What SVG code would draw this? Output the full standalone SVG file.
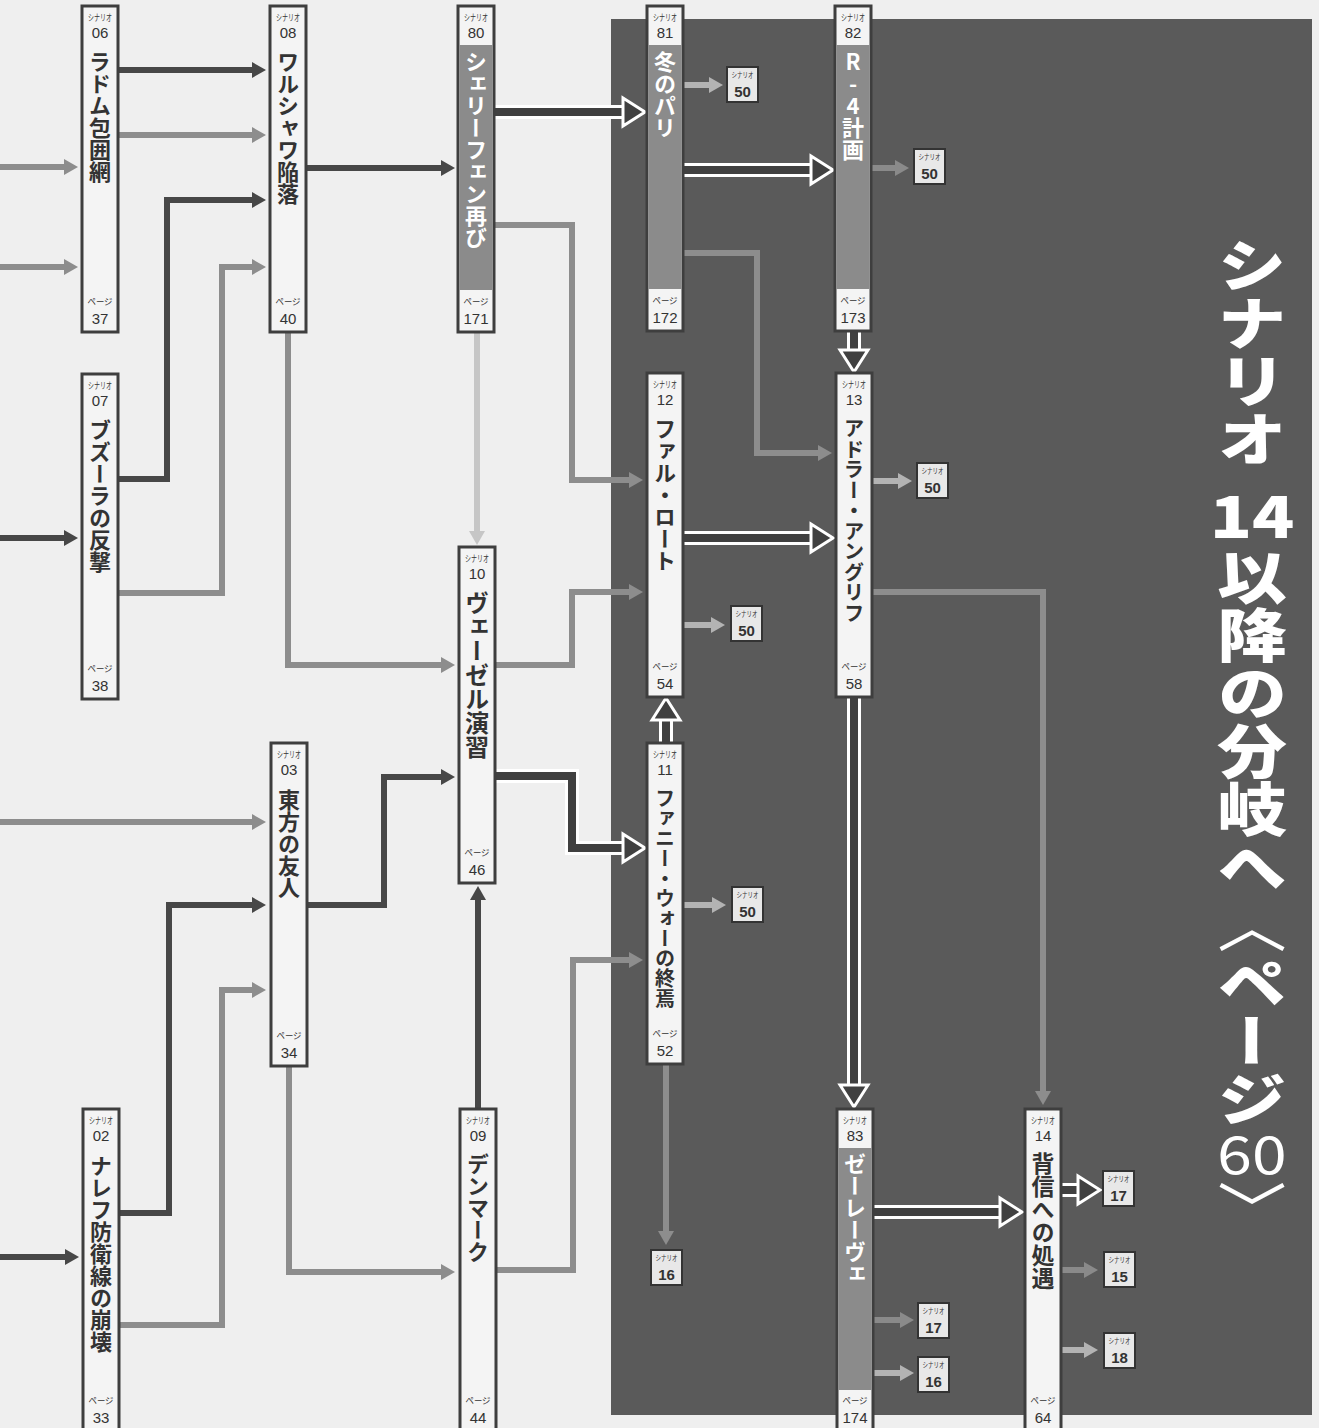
<svg xmlns="http://www.w3.org/2000/svg" width="1319" height="1428" viewBox="0 0 1319 1428">
<style>
text{font-family:"Noto Sans CJK JP","Noto Sans",sans-serif;}
.nbox{fill:#f4f4f4;stroke:#3e3e3e;stroke-width:3;}
.gbody{fill:#8b8b8b;}
.hd{font-size:9px;fill:#333;text-anchor:middle;}
.num{font-family:"Liberation Sans",Arial,sans-serif;font-size:15px;fill:#333;text-anchor:middle;}
.lbl{writing-mode:vertical-rl;font-size:22px;font-weight:700;fill:#333;}
.wl{fill:#fff;}
.sbox{fill:#e8e8e8;stroke:#333;stroke-width:2;}
.shd{font-size:7.5px;fill:#333;text-anchor:middle;}
.snum{font-family:"Liberation Sans",Arial,sans-serif;font-size:15px;font-weight:700;fill:#333;text-anchor:middle;}
.dk{fill:none;stroke:#474747;stroke-width:6;marker-end:url(#ahD);}
.gr{fill:none;stroke:#8d8d8d;stroke-width:6;marker-end:url(#ahG);}
.lt{fill:none;stroke:#c6c6c6;stroke-width:6;marker-end:url(#ahL);}
.pl{fill:none;stroke:#b3b3b3;stroke-width:6;marker-end:url(#ahP);}
.pm{fill:none;stroke:#8a8a8a;stroke-width:6;marker-end:url(#ahM);}
.dout{fill:none;stroke:#fff;stroke-width:14;}
.din{fill:none;stroke:#404040;stroke-width:8;}
.dhead{fill:#404040;stroke:#fff;stroke-width:3;stroke-linejoin:miter;}
.ttl{fill:#fff;font-size:58px;font-weight:900;}
</style>
<defs>
<marker id="ahD" markerUnits="userSpaceOnUse" markerWidth="14" markerHeight="16" refX="2" refY="8" orient="auto"><path d="M0,0 L14,8 L0,16 z" fill="#474747"/></marker>
<marker id="ahG" markerUnits="userSpaceOnUse" markerWidth="14" markerHeight="16" refX="2" refY="8" orient="auto"><path d="M0,0 L14,8 L0,16 z" fill="#8d8d8d"/></marker>
<marker id="ahL" markerUnits="userSpaceOnUse" markerWidth="14" markerHeight="16" refX="2" refY="8" orient="auto"><path d="M0,0 L14,8 L0,16 z" fill="#c6c6c6"/></marker>
<marker id="ahP" markerUnits="userSpaceOnUse" markerWidth="14" markerHeight="16" refX="2" refY="8" orient="auto"><path d="M0,0 L14,8 L0,16 z" fill="#b3b3b3"/></marker>
<marker id="ahM" markerUnits="userSpaceOnUse" markerWidth="14" markerHeight="16" refX="2" refY="8" orient="auto"><path d="M0,0 L14,8 L0,16 z" fill="#8a8a8a"/></marker>
</defs>
<rect x="0" y="0" width="1319" height="1428" fill="#efefef"/>
<rect id="panel" x="611" y="19" width="701" height="1396" fill="#5a5a5a"/>

<g id="connectors">
<path class="dk" d="M118,70 H254"/>
<path class="dk" d="M119,479 H167 V200 H254"/>
<path class="dk" d="M306,168 H443"/>
<path class="dk" d="M0,538 H66"/>
<path class="dk" d="M307,905 H384 V777 H443"/>
<path class="dk" d="M120,1213 H169 V905 H254"/>
<path class="dk" d="M0,1257 H67"/>
<path class="dk" d="M478,1109 V898"/>
<path class="gr" d="M0,167 H66"/>
<path class="gr" d="M0,267 H66"/>
<path class="gr" d="M118,135 H254"/>
<path class="gr" d="M119,593 H222 V267 H254"/>
<path class="gr" d="M288,332 V665 H443"/>
<path class="gr" d="M494,225 H572 V480 H631"/>
<path class="gr" d="M495,665 H572 V592 H631"/>
<path class="gr" d="M0,822 H254"/>
<path class="gr" d="M120,1325 H222 V990 H254"/>
<path class="gr" d="M289,1066 V1272 H443"/>
<path class="gr" d="M497,1270 H573 V960 H631"/>
<path class="gr" d="M683,253 H757 V453 H820"/>
<path class="gr" d="M872,592 H1043 V1093"/>
<path class="gr" d="M666,1064 V1233"/>
<path class="lt" d="M477,332 V533"/>
<path class="pl" d="M683,85 H711"/>
<path class="pm" d="M872,168 H897"/>
<path class="pl" d="M872,481 H900"/>
<path class="pl" d="M683,625 H713"/>
<path class="pl" d="M683,905 H714"/>
<path class="pm" d="M873,1320 H902"/>
<path class="pl" d="M873,1373 H902"/>
<path class="pm" d="M1062,1270 H1086"/>
<path class="pl" d="M1062,1350 H1086"/>
<g id="d1"><path class="dout" d="M494,112 H624"/><path class="din" d="M494,112 H624"/><polygon class="dhead" points="623,98 645,112 623,126"/></g>
<g id="d2"><path class="dout" d="M495,776 H572 V848 H624"/><path class="din" d="M495,776 H572 V848 H624"/><polygon class="dhead" points="623,834 645,848 623,862"/></g>
<g id="d3"><path class="dout" d="M683,170 H812"/><path class="din" d="M683,170 H812"/><polygon class="dhead" points="811,156 833,170 811,184"/></g>
<g id="d4"><path class="dout" d="M854,331 V351"/><path class="din" d="M854,331 V351"/><polygon class="dhead" points="840,350 854,372 868,350"/></g>
<g id="d5"><path class="dout" d="M683,538 H812"/><path class="din" d="M683,538 H812"/><polygon class="dhead" points="811,524 833,538 811,552"/></g>
<g id="d6"><path class="dout" d="M666,743 V719"/><path class="din" d="M666,743 V719"/><polygon class="dhead" points="652,720 666,698 680,720"/></g>
<g id="d7"><path class="dout" d="M854,697 V1086"/><path class="din" d="M854,697 V1086"/><polygon class="dhead" points="840,1085 854,1107 868,1085"/></g>
<g id="d8"><path class="dout" d="M873,1212 H1001"/><path class="din" d="M873,1212 H1001"/><polygon class="dhead" points="1000,1198 1022,1212 1000,1226"/></g>
<g id="d9"><path class="dout" d="M1062,1190 H1079"/><path class="din" d="M1062,1190 H1079"/><polygon class="dhead" points="1078,1176 1100,1190 1078,1204"/></g>
</g>

<g id="n06"><rect class="nbox" x="82" y="6" width="36" height="326"/>
<text class="hd" x="100" y="21" textLength="24" lengthAdjust="spacingAndGlyphs">シナリオ</text><text class="num" x="100" y="38">06</text>
<text class="lbl" x="100" y="51">ラドム包囲網</text>
<text class="hd" x="100" y="305" textLength="25" lengthAdjust="spacingAndGlyphs">ページ</text><text class="num" x="100" y="324">37</text></g>

<g id="n08"><rect class="nbox" x="270" y="6" width="36" height="326"/>
<text class="hd" x="288" y="21" textLength="24" lengthAdjust="spacingAndGlyphs">シナリオ</text><text class="num" x="288" y="38">08</text>
<text class="lbl" x="288" y="51">ワルシャワ陥落</text>
<text class="hd" x="288" y="305" textLength="25" lengthAdjust="spacingAndGlyphs">ページ</text><text class="num" x="288" y="324">40</text></g>

<g id="n80"><rect class="nbox" x="458" y="6" width="36" height="326"/><rect class="gbody" x="459.5" y="45" width="33" height="245"/>
<text class="hd" x="476" y="21" textLength="24" lengthAdjust="spacingAndGlyphs">シナリオ</text><text class="num" x="476" y="38">80</text>
<text class="lbl wl" x="476" y="51">シェリーフェン再び</text>
<text class="hd" x="476" y="305" textLength="25" lengthAdjust="spacingAndGlyphs">ページ</text><text class="num" x="476" y="324">171</text></g>

<g id="n81"><rect class="nbox" x="647" y="6" width="36" height="325"/><rect class="gbody" x="648.5" y="45" width="33" height="244"/>
<text class="hd" x="665" y="21" textLength="24" lengthAdjust="spacingAndGlyphs">シナリオ</text><text class="num" x="665" y="38">81</text>
<text class="lbl wl" x="665" y="51">冬のパリ</text>
<text class="hd" x="665" y="304" textLength="25" lengthAdjust="spacingAndGlyphs">ページ</text><text class="num" x="665" y="323">172</text></g>

<g id="n82"><rect class="nbox" x="835" y="6" width="36" height="325"/><rect class="gbody" x="836.5" y="45" width="33" height="244"/>
<text class="hd" x="853" y="21" textLength="24" lengthAdjust="spacingAndGlyphs">シナリオ</text><text class="num" x="853" y="38">82</text>
<text class="lbl wl" x="853" y="51" style="text-orientation:upright">R-4計画</text>
<text class="hd" x="853" y="304" textLength="25" lengthAdjust="spacingAndGlyphs">ページ</text><text class="num" x="853" y="323">173</text></g>

<g id="n07"><rect class="nbox" x="82" y="374" width="36" height="325"/>
<text class="hd" x="100" y="389" textLength="24" lengthAdjust="spacingAndGlyphs">シナリオ</text><text class="num" x="100" y="406">07</text>
<text class="lbl" x="100" y="419">ブズーラの反撃</text>
<text class="hd" x="100" y="672" textLength="25" lengthAdjust="spacingAndGlyphs">ページ</text><text class="num" x="100" y="691">38</text></g>

<g id="n12"><rect class="nbox" x="647" y="373" width="36" height="324"/>
<text class="hd" x="665" y="388" textLength="24" lengthAdjust="spacingAndGlyphs">シナリオ</text><text class="num" x="665" y="405">12</text>
<text class="lbl" x="665" y="418">ファル・ロート</text>
<text class="hd" x="665" y="670" textLength="25" lengthAdjust="spacingAndGlyphs">ページ</text><text class="num" x="665" y="689">54</text></g>

<g id="n13"><rect class="nbox" x="836" y="373" width="36" height="324"/>
<text class="hd" x="854" y="388" textLength="24" lengthAdjust="spacingAndGlyphs">シナリオ</text><text class="num" x="854" y="405">13</text>
<text class="lbl" x="854" y="418" style="font-size:20.5px">アドラー・アングリフ</text>
<text class="hd" x="854" y="670" textLength="25" lengthAdjust="spacingAndGlyphs">ページ</text><text class="num" x="854" y="689">58</text></g>

<g id="n10"><rect class="nbox" x="459" y="547" width="36" height="336"/>
<text class="hd" x="477" y="562" textLength="24" lengthAdjust="spacingAndGlyphs">シナリオ</text><text class="num" x="477" y="579">10</text>
<text class="lbl" x="477" y="591" style="font-size:24px">ヴェーゼル演習</text>
<text class="hd" x="477" y="856" textLength="25" lengthAdjust="spacingAndGlyphs">ページ</text><text class="num" x="477" y="875">46</text></g>

<g id="n03"><rect class="nbox" x="271" y="743" width="36" height="323"/>
<text class="hd" x="289" y="758" textLength="24" lengthAdjust="spacingAndGlyphs">シナリオ</text><text class="num" x="289" y="775">03</text>
<text class="lbl" x="289" y="789">東方の友人</text>
<text class="hd" x="289" y="1039" textLength="25" lengthAdjust="spacingAndGlyphs">ページ</text><text class="num" x="289" y="1058">34</text></g>

<g id="n11"><rect class="nbox" x="647" y="743" width="36" height="321"/>
<text class="hd" x="665" y="758" textLength="24" lengthAdjust="spacingAndGlyphs">シナリオ</text><text class="num" x="665" y="775">11</text>
<text class="lbl" x="665" y="788" style="font-size:20px">ファニー・ウォーの終焉</text>
<text class="hd" x="665" y="1037" textLength="25" lengthAdjust="spacingAndGlyphs">ページ</text><text class="num" x="665" y="1056">52</text></g>

<g id="n02"><rect class="nbox" x="83" y="1109" width="36" height="322"/>
<text class="hd" x="101" y="1124" textLength="24" lengthAdjust="spacingAndGlyphs">シナリオ</text><text class="num" x="101" y="1141">02</text>
<text class="lbl" x="101" y="1155">ナレフ防衛線の崩壊</text>
<text class="hd" x="101" y="1404" textLength="25" lengthAdjust="spacingAndGlyphs">ページ</text><text class="num" x="101" y="1423">33</text></g>

<g id="n09"><rect class="nbox" x="460" y="1109" width="36" height="322"/>
<text class="hd" x="478" y="1124" textLength="24" lengthAdjust="spacingAndGlyphs">シナリオ</text><text class="num" x="478" y="1141">09</text>
<text class="lbl" x="478" y="1153">デンマーク</text>
<text class="hd" x="478" y="1404" textLength="25" lengthAdjust="spacingAndGlyphs">ページ</text><text class="num" x="478" y="1423">44</text></g>

<g id="n83"><rect class="nbox" x="837" y="1109" width="36" height="322"/><rect class="gbody" x="838.5" y="1148" width="33" height="242"/>
<text class="hd" x="855" y="1124" textLength="24" lengthAdjust="spacingAndGlyphs">シナリオ</text><text class="num" x="855" y="1141">83</text>
<text class="lbl wl" x="855" y="1153">ゼーレーヴェ</text>
<text class="hd" x="855" y="1404" textLength="25" lengthAdjust="spacingAndGlyphs">ページ</text><text class="num" x="855" y="1423">174</text></g>

<g id="n14"><rect class="nbox" x="1025" y="1109" width="36" height="322"/>
<text class="hd" x="1043" y="1124" textLength="24" lengthAdjust="spacingAndGlyphs">シナリオ</text><text class="num" x="1043" y="1141">14</text>
<text class="lbl" x="1043" y="1152" style="font-size:23px">背信への処遇</text>
<text class="hd" x="1043" y="1404" textLength="25" lengthAdjust="spacingAndGlyphs">ページ</text><text class="num" x="1043" y="1423">64</text></g>

<g id="b81-50"><rect class="sbox" x="727" y="67" width="31" height="35"/><text class="shd" x="742.5" y="78" textLength="22" lengthAdjust="spacingAndGlyphs">シナリオ</text><text class="snum" x="742.5" y="97">50</text></g>
<g id="b82-50"><rect class="sbox" x="914" y="149" width="31" height="35"/><text class="shd" x="929.5" y="160" textLength="22" lengthAdjust="spacingAndGlyphs">シナリオ</text><text class="snum" x="929.5" y="179">50</text></g>
<g id="b13-50"><rect class="sbox" x="917" y="463" width="31" height="35"/><text class="shd" x="932.5" y="474" textLength="22" lengthAdjust="spacingAndGlyphs">シナリオ</text><text class="snum" x="932.5" y="493">50</text></g>
<g id="b12-50"><rect class="sbox" x="731" y="606" width="31" height="35"/><text class="shd" x="746.5" y="617" textLength="22" lengthAdjust="spacingAndGlyphs">シナリオ</text><text class="snum" x="746.5" y="636">50</text></g>
<g id="b11-50"><rect class="sbox" x="732" y="887" width="31" height="35"/><text class="shd" x="747.5" y="898" textLength="22" lengthAdjust="spacingAndGlyphs">シナリオ</text><text class="snum" x="747.5" y="917">50</text></g>
<g id="b11-16"><rect class="sbox" x="651" y="1250" width="31" height="35"/><text class="shd" x="666.5" y="1261" textLength="22" lengthAdjust="spacingAndGlyphs">シナリオ</text><text class="snum" x="666.5" y="1280">16</text></g>
<g id="b14-17"><rect class="sbox" x="1103" y="1171" width="31" height="35"/><text class="shd" x="1118.5" y="1182" textLength="22" lengthAdjust="spacingAndGlyphs">シナリオ</text><text class="snum" x="1118.5" y="1201">17</text></g>
<g id="b14-15"><rect class="sbox" x="1104" y="1252" width="31" height="35"/><text class="shd" x="1119.5" y="1263" textLength="22" lengthAdjust="spacingAndGlyphs">シナリオ</text><text class="snum" x="1119.5" y="1282">15</text></g>
<g id="b14-18"><rect class="sbox" x="1104" y="1333" width="31" height="35"/><text class="shd" x="1119.5" y="1344" textLength="22" lengthAdjust="spacingAndGlyphs">シナリオ</text><text class="snum" x="1119.5" y="1363">18</text></g>
<g id="b83-17"><rect class="sbox" x="918" y="1303" width="31" height="35"/><text class="shd" x="933.5" y="1314" textLength="22" lengthAdjust="spacingAndGlyphs">シナリオ</text><text class="snum" x="933.5" y="1333">17</text></g>
<g id="b83-16"><rect class="sbox" x="918" y="1357" width="31" height="35"/><text class="shd" x="933.5" y="1368" textLength="22" lengthAdjust="spacingAndGlyphs">シナリオ</text><text class="snum" x="933.5" y="1387">16</text></g>

<g id="title" transform="translate(1252,0) scale(1.2,1)">
<text class="ttl" x="0" y="236" style="writing-mode:vertical-rl">シナリオ</text>
<text class="ttl" x="0" y="538" text-anchor="middle">14</text>
<text class="ttl" x="0" y="548" style="writing-mode:vertical-rl">以降の分岐へ<tspan font-weight="400">〈</tspan>ページ</text>
<text class="ttl" x="0" y="1174" text-anchor="middle" style="font-weight:400;font-size:52px">60</text>
<text class="ttl" x="0" y="1180" style="writing-mode:vertical-rl;font-weight:400">〉</text>
</g>
</svg>
